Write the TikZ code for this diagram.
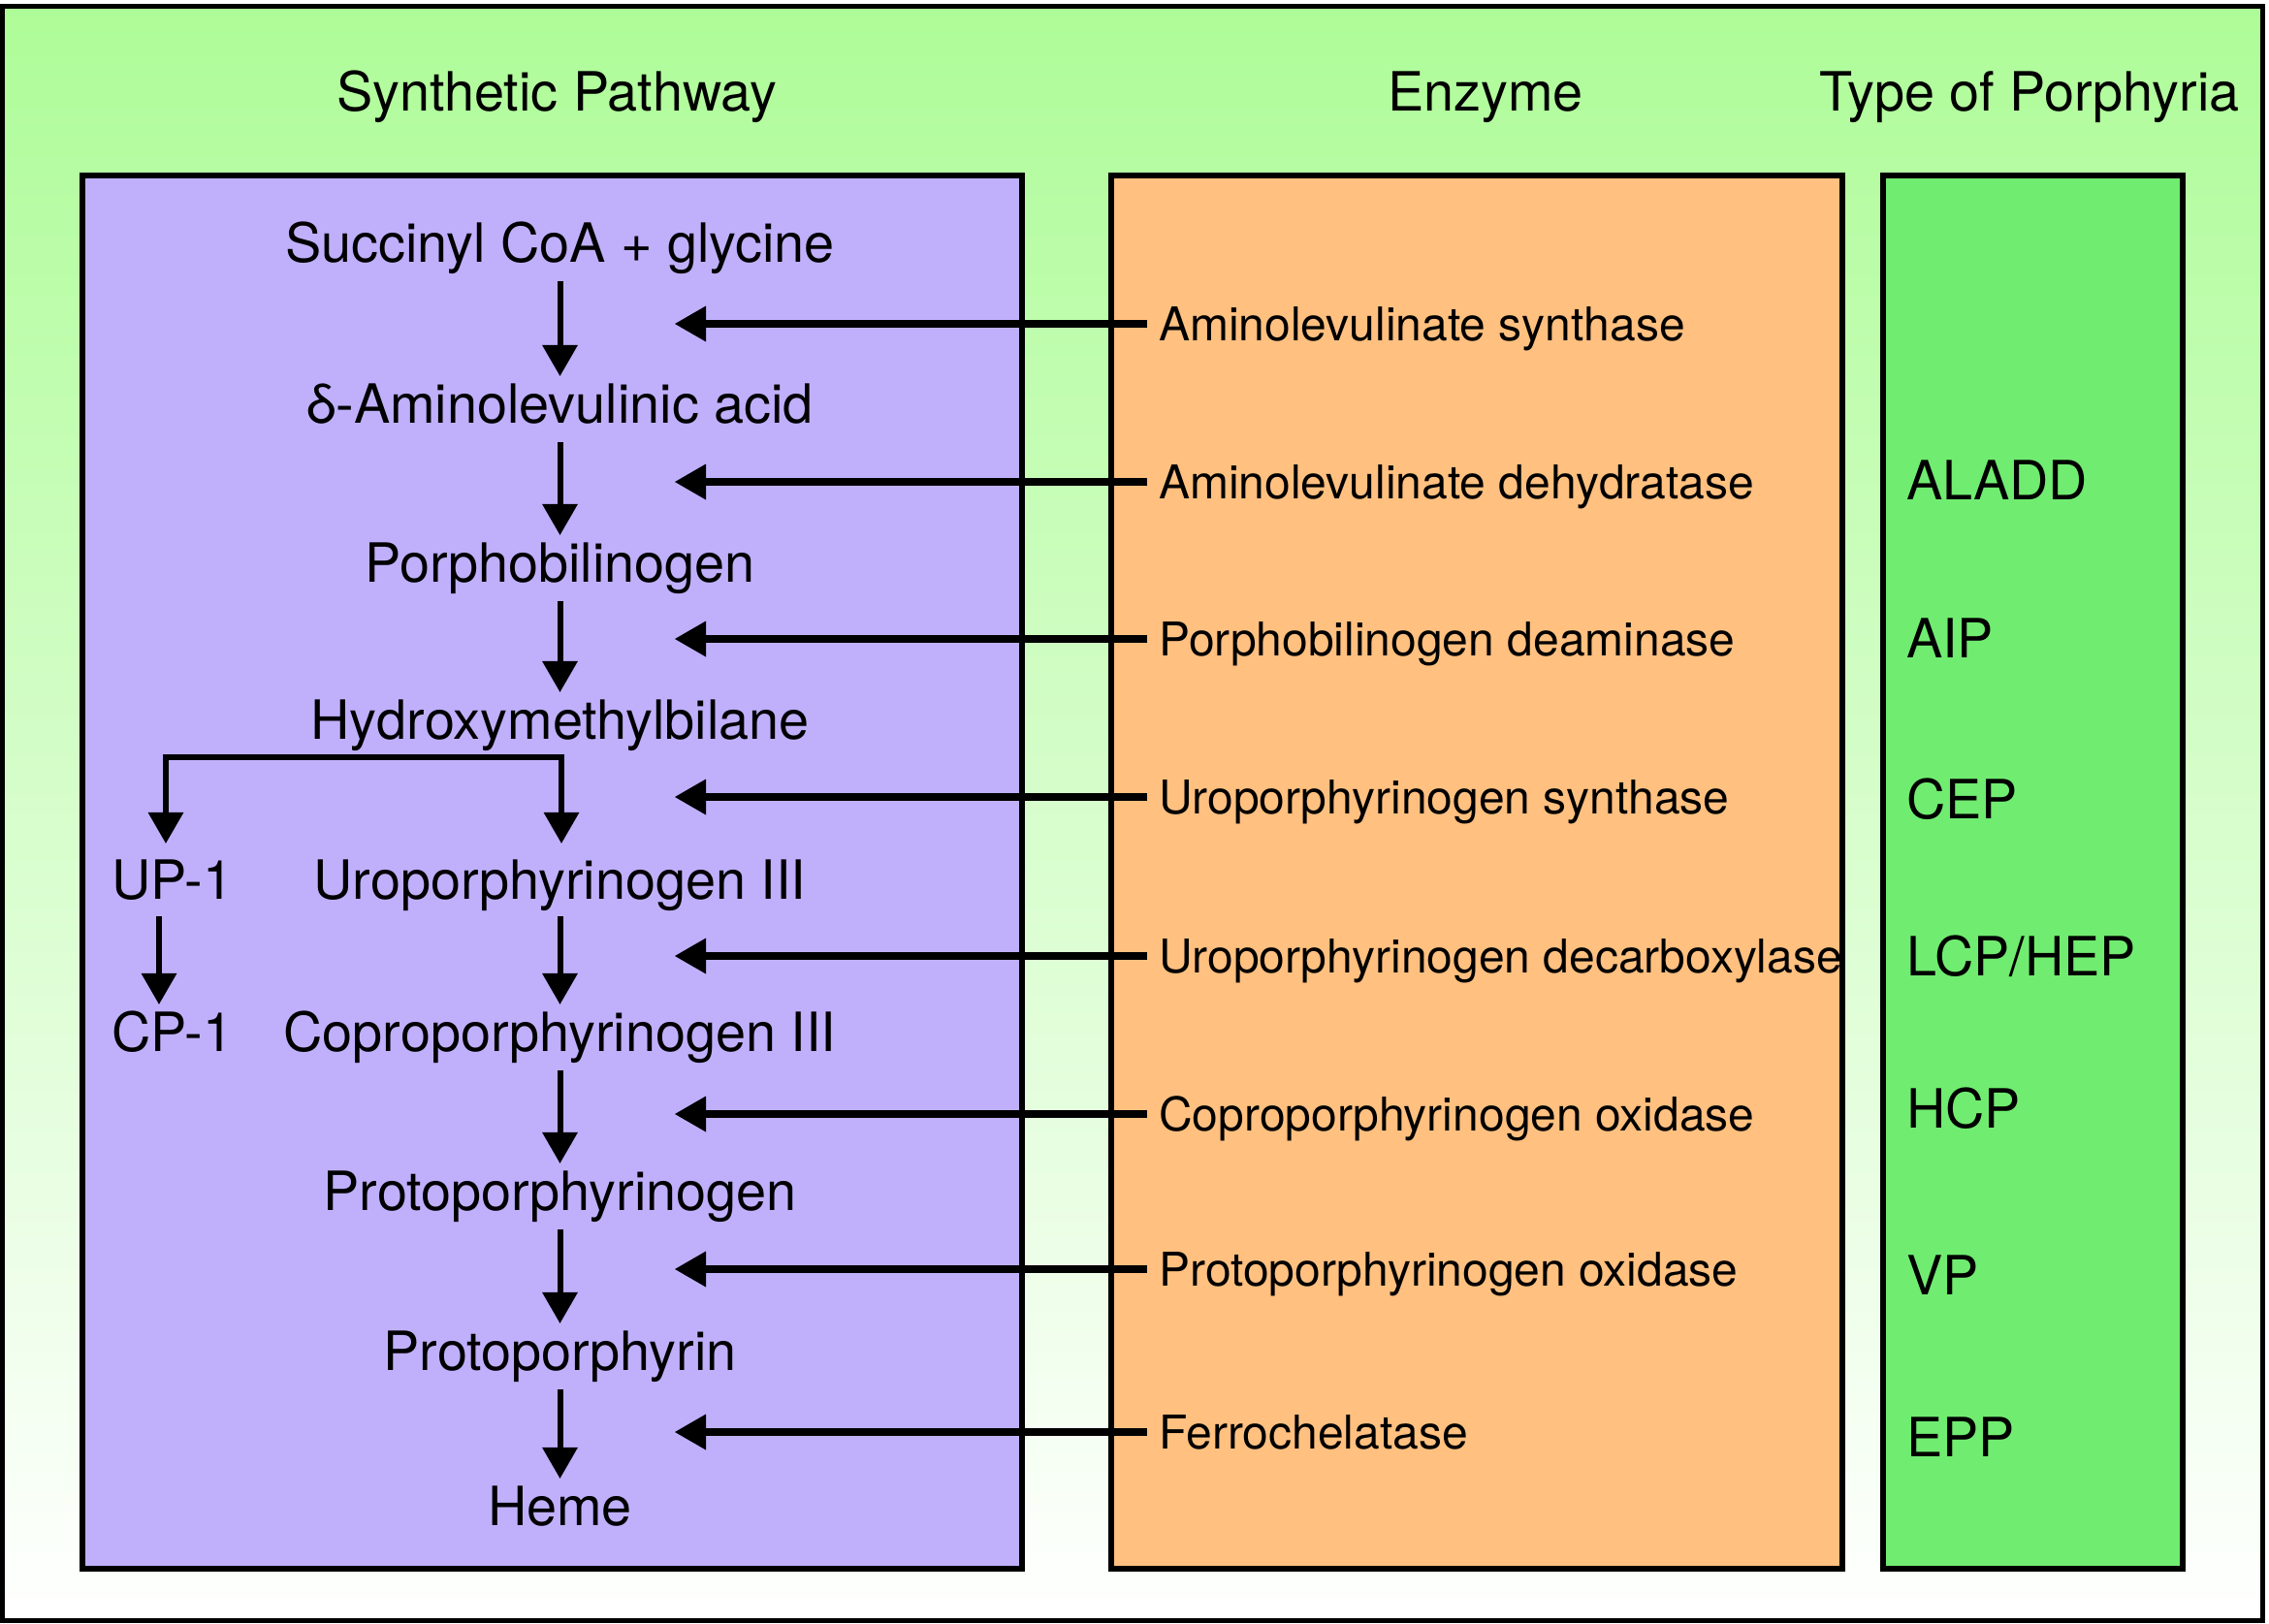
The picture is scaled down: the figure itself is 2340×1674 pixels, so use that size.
\documentclass[tikz,border=0pt]{standalone}
\usepackage{fontspec}
\setmainfont{TeX Gyre Heros}
\usetikzlibrary{arrows.meta}
\definecolor{bgtop}{RGB}{174,252,152}
\definecolor{pathfill}{RGB}{192,176,252}
\definecolor{enzfill}{RGB}{255,192,128}
\definecolor{typfill}{RGB}{112,236,112}
\tikzset{
  big/.style={font=\fontsize{55.8bp}{60bp}\selectfont, inner sep=0pt, text height=40bp, text depth=0pt},
  enz/.style={font=\fontsize{48bp}{54bp}\selectfont, inner ysep=0pt, inner xsep=12bp, text height=34.5bp, text depth=0pt, anchor=west},
  typ/.style={big, anchor=west},
  colbox/.style={draw=black, line width=6bp},
  varrow/.style={line width=6bp, -{Triangle[length=32bp,width=37bp,line width'=0pt]}, shorten <=20bp, shorten >=8bp},
  harrow/.style={line width=7.5bp, -{Triangle[length=32bp,width=37bp,line width'=0pt]}},
  barrow/.style={line width=6bp, {Triangle[length=32bp,width=37bp,line width'=0pt]}-{Triangle[length=32bp,width=37bp,line width'=0pt]}, shorten <=17bp, shorten >=17bp},
}
\begin{document}
\begin{tikzpicture}[x=1bp,y=-1bp]
\useasboundingbox (0,0) rectangle (2340,1674);
% background
\path[top color=bgtop, bottom color=white, draw=black, line width=5bp] (2.5,6.5) rectangle (2333.5,1671.5);
% column boxes
\path[colbox, fill=pathfill] (85,181) rectangle (1054,1618);
\path[colbox, fill=enzfill] (1146,181) rectangle (1900,1618);
\path[colbox, fill=typfill] (1942,181) rectangle (2251,1618);
% titles
\node[big] (t1) at (574,94) {Synthetic Pathway};
\node[big] (t2) at (1532,94) {Enzyme};
\node[big] (t3) at (2093,94) {Type of Porphyria};
% pathway
\node[big] (p1) at (577.5,250) {Succinyl CoA + glycine};
\node[big] (p2) at (577.5,416) {δ-Aminolevulinic acid};
\node[big] (p3) at (577.5,580) {Porphobilinogen};
\node[big] (p4) at (577.5,742) {Hydroxymethylbilane};
\node[big] (p5) at (577.5,907) {Uroporphyrinogen III};
\node[big] (p6) at (577.5,1064) {Coproporphyrinogen III};
\node[big] (p7) at (577.5,1228) {Protoporphyrinogen};
\node[big] (p8) at (577.5,1393) {Protoporphyrin};
\node[big] (p9) at (577.5,1553) {Heme};
\node[big] (up1) at (178,907) {UP-1};
\node[big] (cp1) at (178,1064) {CP-1};
\draw[varrow] (p1.south) -- (p2.north);
\draw[varrow] (p2.south) -- (p3.north);
\draw[varrow] (p3.south) -- (p4.north);
\coordinate (br) at (579,781);
\coordinate (brl) at (171,781);
\draw[barrow] (br |- p5.north) -- (br) -- (brl) -- (brl |- up1.north);
\draw[varrow, shorten <=18bp] ([xshift=-14bp]up1.south) -- ([xshift=-14bp]cp1.north);
\draw[varrow, shorten <=18bp] (p5.south) -- (p6.north);
\draw[varrow] (p6.south) -- (p7.north);
\draw[varrow] (p7.south) -- (p8.north);
\draw[varrow] (p8.south) -- (p9.north);
% enzymes
\node[enz] (e1) at (1183,334) {Aminolevulinate synthase};
\node[enz] (e2) at (1183,497) {Aminolevulinate dehydratase};
\node[enz] (e3) at (1183,659) {Porphobilinogen deaminase};
\node[enz] (e4) at (1183,822) {Uroporphyrinogen synthase};
\node[enz] (e5) at (1183,986) {Uroporphyrinogen decarboxylase};
\node[enz] (e6) at (1183,1149) {Coproporphyrinogen oxidase};
\node[enz] (e7) at (1183,1309) {Protoporphyrinogen oxidase};
\node[enz] (e8) at (1183,1477) {Ferrochelatase};
\coordinate (tipx) at (696,0);
\foreach \e in {e1,e2,e3,e4,e5,e6,e7,e8}
  \draw[harrow] (\e.west) -- (\e.west -| tipx);
% porphyria types
\node[typ] (d2) at (1966,495) {ALADD};
\node[typ] (d3) at (1966,658) {AIP};
\node[typ] (d4) at (1966,824) {CEP};
\node[typ] (d5) at (1966,986) {LCP/HEP};
\node[typ] (d6) at (1966,1143) {HCP};
\node[typ] (d7) at (1966,1315) {VP};
\node[typ] (d8) at (1966,1482) {EPP};
\end{tikzpicture}
\end{document}
